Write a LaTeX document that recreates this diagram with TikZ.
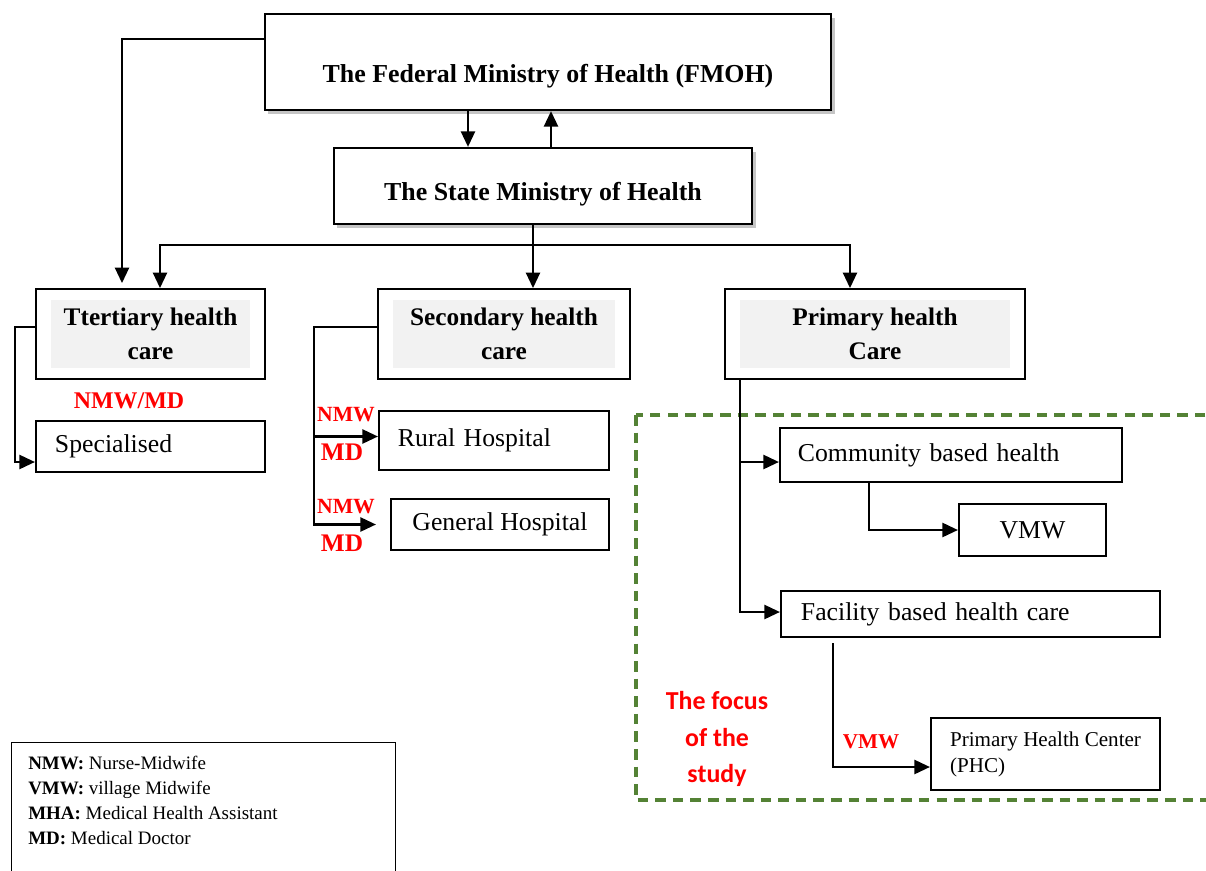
\documentclass[tikz,border=0pt]{standalone}
\usepackage{fontspec}
\setmainfont{Liberation Serif}
\newfontfamily\focusfont{Carlito}
\usetikzlibrary{arrows.meta,positioning,calc,fit,shadows}
\definecolor{cRed}{HTML}{FF0000}
\definecolor{cGreen}{HTML}{548235}
\definecolor{cShade}{HTML}{F2F2F2}
\tikzset{
  mainbox/.style={draw,line width=1.6pt,fill=white,
     drop shadow={shadow xshift=2.5pt,shadow yshift=-2.5pt,opacity=.45}},
  maintxt/.style={inner sep=0pt,font=\bfseries\fontsize{18.4}{24}\selectfont},
  tiertxt/.style={fill=cShade,align=center,inner sep=0pt,minimum height=1.7cm,
     font=\bfseries\fontsize{18}{24.2}\selectfont},
  tierbox/.style={draw,line width=1.6pt,inner xsep=0.375cm,inner ysep=0.2625cm},
  unitbox/.style={draw,line width=1.5pt,inner ysep=0pt,
     font=\fontsize{18.3}{22}\selectfont},
  conn/.style={-{Triangle[length=11pt,width=10pt]},line width=1.5pt},
  tag/.style={text=cRed,inner sep=0pt,font=\bfseries\fontsize{15.4}{18}\selectfont},
  bigtag/.style={tag,font=\bfseries\fontsize{18}{20}\selectfont},
  focustxt/.style={text=cRed,align=center,inner sep=0pt,
     font=\focusfont\bfseries\fontsize{18.4}{26}\selectfont},
  focusline/.style={cGreen,line width=2.4pt,dash pattern=on 7.5pt off 5pt},
  legendtxt/.style={align=left,inner sep=0pt,font=\fontsize{13.5}{17.8}\selectfont},
}
\begin{document}
\begin{tikzpicture}[x=0.025cm,y=-0.025cm]
  \fill[white] (0,0) rectangle (1206,870);
  \useasboundingbox (0,0) rectangle (1206,870);
  % ministries
  \node[mainbox,minimum width=14.15cm,minimum height=2.4cm] (fmoh) at (548,62) {};
  \node[maintxt] (fmohtxt) at (548,76) {The Federal Ministry of Health (FMOH)};
  \node[mainbox,minimum width=10.45cm,minimum height=1.9cm] (state) at (543,186) {};
  \node[maintxt] (statetxt) at (543,194) {The State Ministry of Health};
  % levels of care
  \node[tiertxt,minimum width=4.975cm] (terttxt) at (150.5,334) {Ttertiary health\\care};
  \node[tierbox,fit=(terttxt)] (tert) {};
  \node[tiertxt,minimum width=5.55cm] (sectxt) at (504,334) {Secondary health\\care};
  \node[tierbox,fit=(sectxt)] (sec) {};
  \node[tiertxt,minimum width=6.75cm] (primtxt) at (875,334) {Primary health\\Care};
  \node[tierbox,fit=(primtxt)] (prim) {};
  % facilities
  \node[unitbox,minimum height=1.275cm,text width=4.775cm,inner xsep=0.475cm,align=left] (spec) at (150.5,446.5) {Specialised};
  \node[unitbox,minimum height=1.475cm,text width=4.8cm,inner xsep=0.475cm,align=left] (rural) at (494,440.5) {Rural Hospital};
  \node[unitbox,minimum width=5.45cm,minimum height=1.275cm] (general) at (500,524.5) {General Hospital};
  \node[unitbox,minimum height=1.35cm,text width=7.65cm,inner xsep=0.45cm,align=left] (comm) at (951,455) {Community based health};
  \node[unitbox,minimum width=3.675cm,minimum height=1.3cm] (vmw) at (1032.5,530) {VMW};
  \node[unitbox,minimum height=1.15cm,text width=8.475cm,inner xsep=0.5cm,align=left] (fac) at (970.5,614) {Facility based health care};
  \node[unitbox,minimum width=5.725cm,minimum height=1.8cm,align=left,
        font=\fontsize{15}{18.5}\selectfont] (phc) at (1045.5,754) {Primary Health Center\\(PHC)};
  % focus of the study
  \draw[focusline] (636,415) rectangle (1230,800);
  \node[focustxt] (focus) at (717,739) {The focus\\of the\\study};
  % links
  \draw[conn] ($(fmoh.south)+(-80,0)$) -- ($(state.north)+(-75,0)$);
  \draw[conn] ($(state.north)+(8,0)$) -- ($(fmoh.south)+(3,0)$);
  \draw[conn] ($(fmoh.north west)+(0,26)$) -| ($(tert.north)+(-28.5,-5)$);
  \coordinate (bus) at ($(state.south)+(-10,20)$);
  \draw[conn] ($(state.south)+(-10,0)$) -- (bus |- sec.north);
  \draw[conn] (bus) -| ($(tert.north)+(9.5,0)$);
  \draw[conn] (bus) -| ($(prim.north)+(-25,0)$);
  \draw[conn] ($(tert.west)+(0,-7)$) -- ++(-20,0) |- ($(spec.west)+(0,15.5)$);
  \draw[conn,shorten >=0.35cm] ($(sec.west)+(0,-7)$) -- ++(-63,0) coordinate (secbus) |- (general.west);
  \coordinate (ruralIn) at ($(rural.west)+(0,-4)$);
  \draw[conn] (secbus |- ruralIn) -- (ruralIn);
  \coordinate (pbus) at ($(prim.south west)+(16,0)$);
  \coordinate (commIn) at ($(comm.west)+(0,7)$);
  \draw[conn] (pbus) |- ($(fac.west)+(0,-2)$);
  \draw[conn] (pbus |- commIn) -- (commIn);
  \draw[conn] ($(comm.south)+(-82,0)$) |- (vmw.west);
  \draw[conn] ($(fac.south)+(-137.5,5)$) |- ($(phc.west)+(0,13)$);
  % staff
  \node[tag,font=\bfseries\fontsize{17}{20}\selectfont] (tertTag) at (129,401) {NMW/MD};
  \node[tag] (ruralNmw) at (346,415) {NMW};
  \node[bigtag] (ruralMd) at (342,452) {MD};
  \node[tag] (genNmw) at (346,507) {NMW};
  \node[bigtag] (genMd) at (342,543) {MD};
  \node[tag,font=\bfseries\fontsize{15}{18}\selectfont] (phcVmw) at (871,742) {VMW};
  % legend
  \node[draw,line width=0.8pt,anchor=north west,minimum width=9.6cm,minimum height=3.6cm] (legend) at (11,742) {};
  \node[legendtxt,anchor=north west] (legtxt) at ($(legend.north west)+(17,14)$)
    {\textbf{NMW:} Nurse-Midwife\\\textbf{VMW:} village Midwife\\
     \textbf{MHA:} Medical Health Assistant\\\textbf{MD:} Medical Doctor};
\end{tikzpicture}
\end{document}
